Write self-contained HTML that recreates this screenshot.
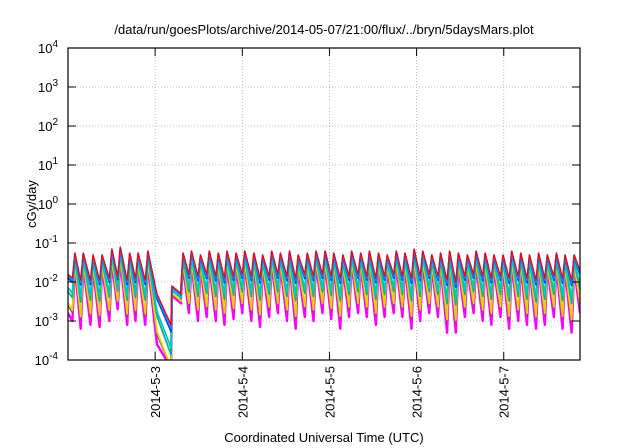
<!DOCTYPE html>
<html><head><meta charset="utf-8"><style>
html,body{margin:0;padding:0;background:#fff;}
svg{display:block;font-family:"Liberation Sans",Arial,sans-serif;}
</style></head><body>
<svg id="chart" width="640" height="448" viewBox="0 0 640 448">
<text x="324" y="34" font-size="13" text-anchor="middle">/data/run/goesPlots/archive/2014-05-07/21:00/flux/../bryn/5daysMars.plot</text>
<text x="324" y="442" font-size="13" text-anchor="middle">Coordinated Universal Time (UTC)</text>
<text transform="translate(36,204) rotate(-90)" font-size="13" text-anchor="middle">cGy/day</text>
<g id="grid"></g>
<g id="clipdefs"><clipPath id="pc"><rect x="68" y="48" width="512" height="312"/></clipPath></g>
<g id="series" clip-path="url(#pc)"></g>
<g id="axes"></g>
<rect x="68" y="48" width="512" height="312" fill="none" stroke="#000" stroke-width="1.2"/>
</svg>
<script>
const yTickExps = [-4,-3,-2,-1,0,1,2,3,4];
const xTickLabels = ["2014-5-3","2014-5-4","2014-5-5","2014-5-6","2014-5-7"];
const xTickHours = [24,48,72,96,120];
const spikeHours = [1.9,4.2,6.9,9.4,12.1,14.4,17.0,19.3,22.0,31.7,34.0,36.5,38.9,41.4,43.8,46.3,48.7,51.2,53.6,56.1,58.5,61.0,63.4,65.9,68.3,70.8,73.2,75.7,78.1,80.6,83.0,85.5,87.9,90.4,92.8,95.3,97.7,100.2,102.6,105.1,107.5,110.0,112.4,114.9,117.3,119.8,122.2,124.7,127.1,129.6,132.0,134.5,136.9,139.4];
const peakLog = [-1.25,-1.25,-1.3,-1.3,-1.15,-1.1,-1.25,-1.25,-1.2,-1.25,-1.2,-1.3,-1.2,-1.25,-1.2,-1.25,-1.2,-1.25,-1.3,-1.2,-1.25,-1.2,-1.3,-1.25,-1.2,-1.2,-1.25,-1.3,-1.2,-1.25,-1.2,-1.25,-1.3,-1.2,-1.25,-1.15,-1.2,-1.3,-1.25,-1.2,-1.25,-1.3,-1.2,-1.25,-1.3,-1.3,-1.2,-1.25,-1.3,-1.25,-1.3,-1.25,-1.3,-1.3];
const troughRedLog = [-1.9,-1.95,-1.95,-1.95,-1.9,-1.85,-1.95,-1.9,-1.95,-2.3,-1.8,-1.85,-1.8,-1.85,-1.9,-1.85,-1.8,-1.85,-1.9,-1.85,-1.8,-1.85,-1.9,-1.8,-1.85,-1.8,-1.85,-1.9,-1.85,-1.8,-1.85,-1.9,-1.85,-1.8,-1.85,-1.9,-1.85,-1.8,-1.85,-1.95,-2.0,-1.85,-1.8,-1.85,-1.9,-1.85,-1.9,-1.85,-1.9,-1.95,-1.9,-1.85,-1.9,-1.95];
const troughMagLog = [-3.0,-3.2,-3.1,-3.15,-3.0,-2.7,-3.1,-3.0,-3.1,-2.55,-2.8,-3.0,-2.9,-3.0,-3.1,-2.95,-2.8,-3.0,-3.15,-2.9,-2.8,-3.0,-3.2,-2.9,-3.0,-2.8,-2.95,-3.2,-2.9,-2.8,-2.9,-3.1,-2.9,-2.8,-2.9,-3.2,-3.0,-2.8,-2.9,-3.3,-3.3,-2.9,-2.8,-3.0,-3.1,-2.9,-3.2,-3.0,-3.1,-3.2,-3.1,-2.9,-3.2,-3.3];
const gapHours = [24.5,28.4,28.6,31.2];
const gapRedLog = [-2.3,-3.1,-2.1,-2.3];
const gapMagLog = [-3.6,-4.8,-2.35,-2.55];
const startHour = 0, startRed = -1.8, startMag = -2.8;
const endHour = 141, endRed = -1.7, endMag = -2.8;
const seriesNames = ["magenta","purple","yellow","teal","cyan","blue-dark","blue","red"];
const seriesFrac = [1,0.8,0.75,0.45,0.35,0.1,0.05,0];
const seriesColors = ["#ff00ff","#9c3c8c","#e8d000","#10b090","#00c8c8","#0040e0","#2080ff","#ff0000"];

const NS="http://www.w3.org/2000/svg";
const L=68,R=580,T=48,B=360,H0=0,H1=141;
const xs=h=>L+(h-H0)/(H1-H0)*(R-L);
const ys=lg=>B-(Math.max(-4.2,lg)+4)/8*(B-T);
function mk(tag,attrs,parent){const e=document.createElementNS(NS,tag);for(const k in attrs)e.setAttribute(k,attrs[k]);parent.appendChild(e);return e;}
const grid=document.getElementById('grid'),axes=document.getElementById('axes'),ser=document.getElementById('series');
yTickExps.forEach(ex=>{
  const y=ys(ex);
  if(ex>-4&&ex<4){const g=mk('line',{x1:L,x2:R,y1:y,y2:y,stroke:'#aaa','stroke-width':0.8,'stroke-dasharray':'1,2'},grid);
  
  }
  mk('line',{x1:L,x2:L+8,y1:y,y2:y,stroke:'#000'},axes);
  mk('line',{x1:R-8,x2:R,y1:y,y2:y,stroke:'#000'},axes);
  const t=mk('text',{x:58,y:y+5,'font-size':13,'text-anchor':'end'},axes);
  
  
  t.innerHTML='10<tspan dy="-6" font-size="10">'+ex+'</tspan>';
});
xTickHours.forEach((h,i)=>{
  const x=xs(h);
  const g=mk('line',{x1:x,x2:x,y1:T,y2:B,stroke:'#aaa','stroke-width':0.8,'stroke-dasharray':'1,2'},grid);
  
  
  mk('line',{x1:x,x2:x,y1:B-8,y2:B,stroke:'#000'},axes);
  mk('line',{x1:x,x2:x,y1:T,y2:T+8,stroke:'#000'},axes);
  const t=mk('text',{transform:`translate(${x+5},366) rotate(-90)`,'font-size':13,'text-anchor':'end'},axes);
  
  
  t.textContent=xTickLabels[i];
});
seriesNames.forEach((nm,k)=>{
  const f=seriesFrac[k];
  const v=(r,m)=>r+f*(m-r);
  const pts=[[startHour,v(startRed,startMag)]];
  spikeHours.forEach((h,i)=>{
    pts.push([h-0.7,v(troughRedLog[i],troughMagLog[i])]);
    pts.push([h,v(peakLog[i],peakLog[i]-0.35)]);
    if(i===8){gapHours.forEach((g,j)=>pts.push([g,v(gapRedLog[j],gapMagLog[j])]));}
  });
  pts.push([endHour,v(endRed,endMag)]);
  const w = k===0?2.4:(k===7?1.2:1.8);
  const p=mk('polyline',{points:pts.map(q=>xs(q[0]).toFixed(1)+','+ys(q[1]).toFixed(1)).join(' '),fill:'none',stroke:seriesColors[k],'stroke-width':w,'stroke-linejoin':'round'},ser);
  
  
});
</script>
</body></html>
